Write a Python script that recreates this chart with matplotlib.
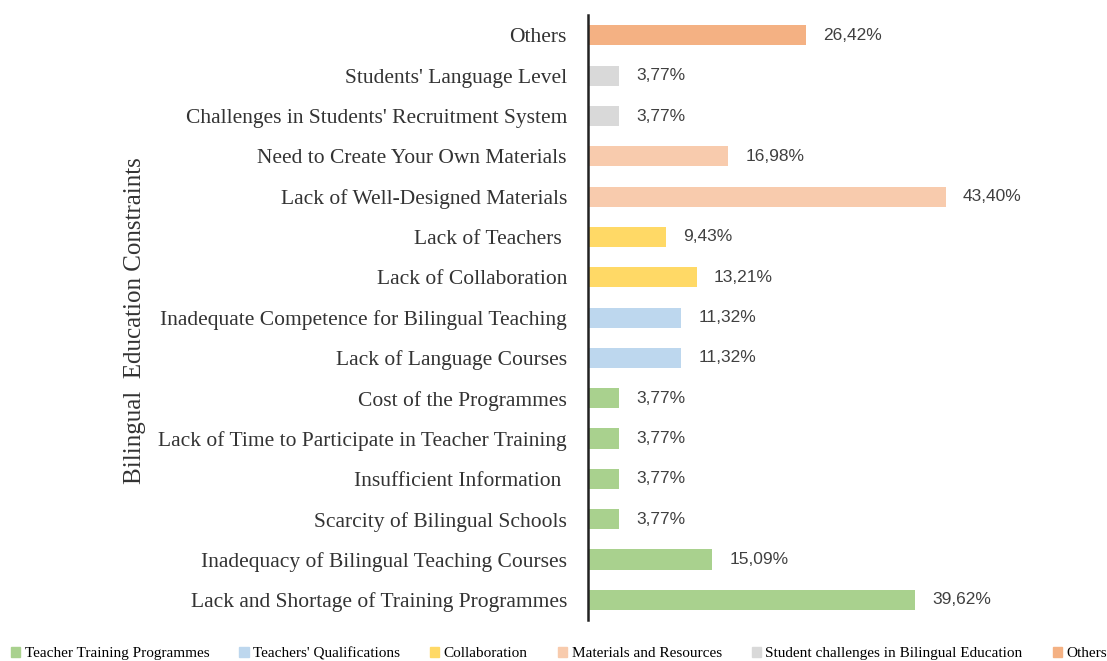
import matplotlib.pyplot as plt
from matplotlib.patches import Patch

# categories from bottom to top
categories = [
    "Lack and Shortage of Training Programmes",
    "Inadequacy of Bilingual Teaching Courses",
    "Scarcity of Bilingual Schools",
    "Insufficient Information ",
    "Lack of Time to Participate in Teacher Training",
    "Cost of the Programmes",
    "Lack of Language Courses",
    "Inadequate Competence for Bilingual Teaching",
    "Lack of Collaboration",
    "Lack of Teachers ",
    "Lack of Well-Designed Materials",
    "Need to Create Your Own Materials",
    "Challenges in Students' Recruitment System",
    "Students' Language Level",
    "Others",
]
values = [39.62, 15.09, 3.77, 3.77, 3.77, 3.77, 11.32, 11.32, 13.21, 9.43,
          43.40, 16.98, 3.77, 3.77, 26.42]
groups = [0, 0, 0, 0, 0, 0, 1, 1, 2, 2, 3, 3, 4, 4, 5]

group_names = ["Teacher Training Programmes", "Teachers' Qualifications",
               "Collaboration", "Materials and Resources",
               "Student challenges in Bilingual Education", "Others"]
group_colors = ["#a9d18e", "#bdd7ee", "#ffd966", "#f8cbad", "#d9d9d9", "#f4b183"]

serif = ["Liberation Serif", "DejaVu Serif"]

fig = plt.figure(figsize=(11.07, 6.61), dpi=100)
ax = fig.add_axes([0.531, 0.062, 0.447, 0.915])

colors = [group_colors[g] for g in groups]
ypos = list(range(len(categories)))
ax.barh(ypos, values, height=0.5, color=colors)

# value labels next to the bars
for y, v in zip(ypos, values):
    ax.text(v + 2.1, y, ("%.2f" % v).replace(".", ",") + "%", va="center",
            ha="left", fontsize=12.5, color="#404040", family="Liberation Sans")

ax.set_xlim(0, 60)
ax.set_ylim(-0.5, len(categories) - 0.5)
ax.set_yticks(ypos)
ax.set_yticklabels(categories, fontsize=15.5, family=serif, color="#333333")
ax.tick_params(axis="y", length=0, pad=15)
ax.set_xticks([])
for s in ["top", "right", "bottom"]:
    ax.spines[s].set_visible(False)
ax.spines["left"].set_linewidth(1.8)
ax.spines["left"].set_color("#222222")

fig.text(0.122, 0.515, "Bilingual  Education Constraints", rotation=90,
         ha="center", va="center", fontsize=18, family=serif, color="#333333")

handles = [Patch(color=c, label=n) for c, n in zip(group_colors, group_names)]
fig.legend(handles=handles, loc="center left", bbox_to_anchor=(0.01, 0.011, 0.99, 0.0),
           ncol=6, mode="expand", frameon=False, handlelength=0.6, handleheight=0.6,
           handletextpad=0.3, borderaxespad=0, borderpad=0,
           prop={"family": serif, "size": 11})

fig.savefig("out.png", dpi=100)
